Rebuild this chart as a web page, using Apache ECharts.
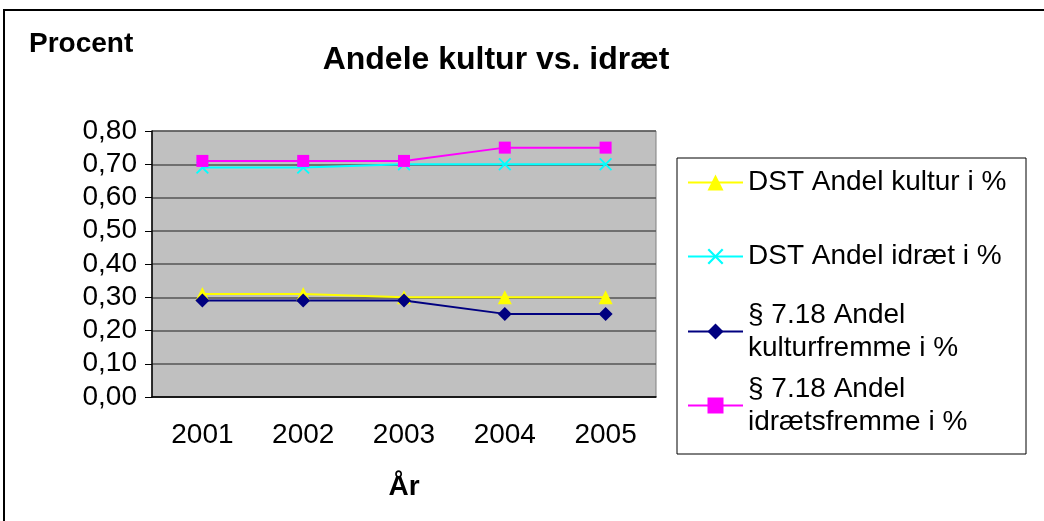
<!DOCTYPE html>
<html>
    <head>
        <title>Andele kultur vs. idræt</title>
        <meta charset="UTF-8">
        <script src="https://cdn.jsdelivr.net/npm/echarts@6/dist/echarts.min.js"></script>
        <style>
            body {
                margin: 0;
                background-color: #fff;
            }
            #main {
                width: 1044px;
                height: 521px;
            }
        </style>
    </head>
    <body>
        <div id="main"></div>
        <script>
            // data
            var years = ['2001', '2002', '2003', '2004', '2005'];
            var dstKultur = [0.31, 0.31, 0.30, 0.30, 0.30];
            var dstIdraet = [0.69, 0.69, 0.70, 0.70, 0.70];
            var kulturfremme = [0.29, 0.29, 0.29, 0.25, 0.25];
            var idraetsfremme = [0.71, 0.71, 0.71, 0.75, 0.75];
            var yTicks = [0, 0.1, 0.2, 0.3, 0.4, 0.5, 0.6, 0.7, 0.8];

            var names = ['DST Andel kultur i %', 'DST Andel idræt i %',
                '§ 7.18 Andel kulturfremme i %', '§ 7.18 Andel idrætsfremme i %'];
            var font = '"Liberation Sans", Arial, sans-serif';
            var xMark = 'path://M0,1L1,0L5,4L9,0L10,1L6,5L10,9L9,10L5,6L1,10L0,9L4,5Z';

            var chart = echarts.init(document.getElementById('main'));

            function serie(name, data, color, symbol, size) {
                return {
                    name: name,
                    type: 'line',
                    data: data,
                    symbol: symbol,
                    symbolSize: size,
                    lineStyle: {color: color, width: 2},
                    itemStyle: {color: color},
                    animation: false
                };
            }

            var legendText = {color: '#000', fontFamily: font, fontSize: 28, lineHeight: 33};

            option = {
                backgroundColor: '#fff',
                textStyle: {fontFamily: font},
                graphic: [
                    {type: 'rect', shape: {x: 4, y: 10, width: 1100, height: 600},
                        style: {fill: 'none', stroke: '#000', lineWidth: 2}, z: -1},
                    {type: 'rect', shape: {x: 677, y: 158, width: 349, height: 296},
                        style: {fill: 'none', stroke: '#000', lineWidth: 1}},
                    {type: 'text', left: 29, top: 30,
                        style: {text: 'Procent', font: 'bold 28px ' + font, fill: '#000'}}
                ],
                title: {
                    text: 'Andele kultur vs. idræt',
                    left: 491,
                    top: 39,
                    textAlign: 'center',
                    textStyle: {fontFamily: font, fontSize: 32, fontWeight: 'bold', color: '#000'}
                },
                legend: [{
                        data: [names[0], names[1]],
                        orient: 'vertical',
                        left: 687,
                        top: 166,
                        padding: 0,
                        itemWidth: 55,
                        itemHeight: 20,
                        itemGap: 41,
                        textStyle: legendText
                    }, {
                        data: [names[2], names[3]],
                        orient: 'vertical',
                        left: 687,
                        top: 282,
                        padding: 0,
                        itemWidth: 55,
                        itemHeight: 20,
                        itemGap: -25,
                        formatter: function (n) {
                            return n.replace('Andel ', 'Andel\n');
                        },
                        textStyle: Object.assign({padding: [33, 0, 0, 0]}, legendText)
                    }],
                grid: {
                    left: 152,
                    right: 388,
                    top: 131,
                    bottom: 124,
                    show: true,
                    backgroundColor: '#c0c0c0',
                    borderColor: '#808080',
                    borderWidth: 1
                },
                xAxis: {
                    type: 'category',
                    data: years,
                    boundaryGap: true,
                    name: 'År',
                    nameLocation: 'middle',
                    nameGap: 76,
                    nameTextStyle: {fontFamily: font, fontSize: 28, fontWeight: 'bold', color: '#000'},
                    axisLine: {lineStyle: {color: '#000', width: 1.5}},
                    axisTick: {length: 8, lineStyle: {color: '#000'}},
                    axisLabel: {color: '#000', fontSize: 28, margin: 24, fontFamily: font}
                },
                yAxis: {
                    type: 'value',
                    min: yTicks[0],
                    max: yTicks[yTicks.length - 1],
                    interval: 0.1,
                    axisLine: {show: true, lineStyle: {color: '#000', width: 1.5}},
                    axisTick: {show: true, length: 7, lineStyle: {color: '#000'}},
                    axisLabel: {
                        color: '#000', fontSize: 28, margin: 15, fontFamily: font,
                        formatter: function (v) {
                            return v.toFixed(2).replace('.', ',');
                        }
                    },
                    splitLine: {lineStyle: {color: '#555', width: 1.5}}
                },
                series: [
                    serie(names[0], dstKultur, '#ffff00', 'triangle', 14),
                    serie(names[1], dstIdraet, '#00ffff', xMark, 13),
                    serie(names[2], kulturfremme, '#000080', 'diamond', 14),
                    serie(names[3], idraetsfremme, '#ff00ff', 'rect', 12)
                ]
            };
            chart.setOption(option);
        </script>
    </body>
</html>
